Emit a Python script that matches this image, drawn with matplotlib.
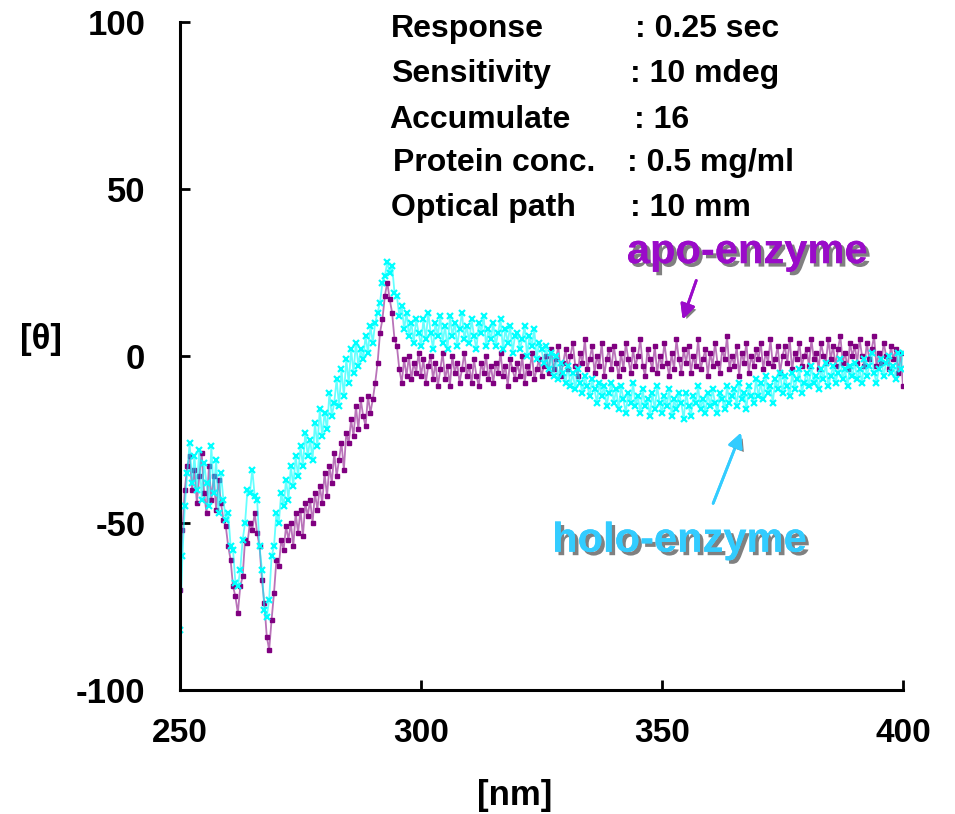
import numpy as np
import matplotlib
matplotlib.use("Agg")
import matplotlib.pyplot as plt
import matplotlib.patheffects as pe
from matplotlib import font_manager

# wavelength grid, 0.5 nm steps
wavelength = np.arange(250, 400.5, 0.5)

# apo-enzyme CD signal (purple)
apo = [
    -70, -52, -40, -33, -30, -40, -34, -44, -36, -29,
    -41, -47, -33, -43, -36, -46, -37, -44, -49, -51,
    -57, -61, -69, -72, -77, -69, -66, -55, -56, -50,
    -52, -47, -53, -57, -67, -74, -84, -88, -79, -71,
    -61, -63, -55, -58, -51, -55, -50, -57, -47, -53,
    -46, -54, -44, -48, -43, -50, -41, -46, -39, -44,
    -35, -42, -33, -38, -29, -36, -31, -26, -34, -23,
    -26, -19, -24, -15, -22, -13, -18, -21, -12, -17,
    -13, -8, -2, 7, 11, 18, 22, 17, 13, 5,
    3, -4, -8, -1, -6, 0, -7, -2, -5, 1,
    -6, -1, -8, -3, 0, -7, -2, -9, -4, 1,
    -7, -3, -9, 0, -5, -2, -8, -4, 1, -6,
    -3, -8, -1, -6, -9, -2, -5, 0, -7, -3,
    -8, -2, -5, 1, -6, -3, -9, -1, -4, -7,
    -2, -6, 0, -8, -3, -5, 1, -7, -4, -1,
    -6, -3, 0, -5, 2, -4, -1, 3, -6, -2,
    2, -4, 0, 4, -3, -6, 1, -2, 5, -4,
    -1, 3, -5, 0, -3, 4, -6, -1, 2, -4,
    3, -2, -6, 1, -4, 4, -1, -5, 2, -3,
    0, 5, -3, -6, 2, -1, -4, 3, -5, 0,
    -3, 4, -2, -6, 1, -4, 5, -1, -5, 2,
    -2, 3, -5, 0, -3, 5, -4, -1, 2, -6,
    1, -3, 4, -2, -5, 2, -1, 6, -4, 0,
    -3, 3, -6, 1, -2, 4, -5, 0, -3, 2,
    -1, 4, -4, 1, -2, 5, -3, -1, 3, -5,
    0, 3, -2, 5, -4, 1, -1, 4, -3, 0,
    2, -3, 5, -1, 1, -4, 4, 0, -2, 5,
    -1, 3, -3, 2, 6, -2, 1, -4, 4, 0,
    3, -2, 5, 0, -3, 4, -1, 2, 6, -3,
    1, -2, 4, 0, -4, 3, -1, 2, -5, 1,
    -9,
]

# holo-enzyme CD signal (cyan)
holo = [
    -82, -60, -45, -35, -26, -38, -30, -40, -28, -43,
    -32, -38, -45, -27, -41, -31, -47, -35, -43, -49,
    -47, -57, -58, -68, -69, -64, -55, -50, -40, -41,
    -34, -42, -43, -57, -64, -76, -78, -73, -60, -57,
    -47, -50, -41, -45, -37, -43, -33, -39, -30, -36,
    -27, -33, -23, -30, -25, -31, -20, -27, -16, -24,
    -17, -22, -11, -18, -14, -7, -15, -4, -12, -1,
    -8, 2, -5, 4, -3, 2, -1, 6, 1, 9,
    4, 10, 13, 16, 22, 24, 28, 25, 27, 19,
    18, 12, 15, 8, 13, 6, 10, 4, 11, 7,
    3, 11, 5, 13, 7, 2, 10, 6, 12, 4,
    9, 2, 12, 6, 10, 3, 8, 13, 5, 9,
    4, 11, 6, 2, 10, 7, 12, 3, 8, 5,
    10, 3, 7, 11, 2, 8, 4, 9, 1, 6,
    7, 2, 5, 9, 0, 6, 3, 8, -1, 4,
    2, -2, 3, -4, 1, -6, 0, -7, -2, -5,
    -8, -3, -9, -5, -10, -4, -8, -11, -6, -9,
    -12, -7, -10, -14, -8, -12, -9, -15, -11, -8,
    -14, -10, -16, -9, -13, -17, -11, -14, -8, -15,
    -12, -17, -10, -15, -13, -18, -11, -16, -9, -14,
    -17, -12, -15, -10, -18, -13, -16, -11, -14, -19,
    -11, -15, -18, -12, -14, -9, -16, -13, -17, -11,
    -15, -10, -14, -17, -11, -13, -16, -9, -14, -12,
    -10, -15, -8, -13, -11, -16, -9, -12, -14, -7,
    -12, -8, -13, -6, -11, -9, -14, -7, -10, -5,
    -11, -6, -9, -12, -5, -10, -7, -4, -11, -8,
    -5, -9, -3, -8, -6, -10, -4, -7, -2, -9,
    -6, -3, -8, -5, -1, -7, -4, -9, -3, -6,
    -2, -7, -4, -8, -1, -6, -3, 1, -5, -8,
    -4, -1, -6, -2, 0, -5, -3, -7, 1, -4,
    1,
]

x_ticks = [250, 300, 350, 400]
y_ticks = [-100, -50, 0, 50, 100]

info_labels = ['Response', 'Sensitivity', 'Accumulate', 'Protein conc.', 'Optical path']
info_values = [': 0.25 sec', ': 10 mdeg', ': 16', ': 0.5 mg/ml', ': 10 mm']

PURPLE = '#800080'
CYAN = '#00FFFF'
APO_TEXT = '#9A0BC9'
HOLO_TEXT = '#33CCFF'

names = {f.name for f in font_manager.fontManager.ttflist}
narrow = 'Liberation Sans Narrow' if 'Liberation Sans Narrow' in names else 'Liberation Sans'
plt.rcParams['font.family'] = ['Liberation Sans', 'DejaVu Sans']
plt.rcParams['font.weight'] = 'bold'
plt.rcParams['axes.unicode_minus'] = False

W, H = 955, 814
fig = plt.figure(figsize=(W / 100, H / 100), dpi=100)
ax = fig.add_axes([180 / W, 124 / H, 723 / W, 668 / H])

ax.plot(wavelength, apo, color=PURPLE, lw=1.3, alpha=0.55)
ax.plot(wavelength, apo, ls='none', marker='s', ms=3, color=PURPLE)
ax.plot(wavelength, holo, color=CYAN, lw=1.3, alpha=0.6)
ax.plot(wavelength, holo, ls='none', marker='x', ms=4.5, mew=1.6, color=CYAN)

ax.set_xlim(250, 400)
ax.set_ylim(-100, 100)
ax.set_xticks(x_ticks)
ax.set_yticks(y_ticks)
for s in ['top', 'right']:
    ax.spines[s].set_visible(False)
for s in ['left', 'bottom']:
    ax.spines[s].set_linewidth(2.2)
ax.tick_params(direction='in', length=7, width=2)
ax.tick_params(axis='y', pad=25, labelsize=25)
ax.tick_params(axis='x', pad=20, labelsize=24)
for lab in ax.get_xticklabels():
    lab.set_fontfamily(narrow)
    lab.set_fontweight('bold')
for lab in ax.get_yticklabels():
    lab.set_fontweight('bold')

fig.text(515 / W, 1 - 795 / H, '[nm]', ha='center', va='center',
         fontsize=25, fontweight='bold', family=narrow)
fig.text(41 / W, 1 - 340 / H, '[θ]', ha='center', va='center',
         fontsize=25, fontweight='bold', family=['Liberation Sans', 'DejaVu Sans'])

# instrument settings block
label_x = [391, 391, 389, 393, 391]
value_x = [635, 630, 634, 627, 630]
baselines = [37, 82, 128, 171, 216]
for lab, val, lx, vx, by in zip(info_labels, info_values, label_x, value_x, baselines):
    fig.text(lx / W, 1 - by / H, lab, ha='left', va='baseline', fontsize=23, fontweight='bold')
    fig.text(vx / W, 1 - by / H, val, ha='left', va='baseline', fontsize=23, fontweight='bold')

shadow = [pe.withSimplePatchShadow(offset=(2.5, -2.5), shadow_rgbFace='#808080', alpha=1), pe.Normal()]
ax.text(342.7, 27.8, 'apo-enzyme', color=APO_TEXT, fontsize=30, fontweight='bold',
        ha='left', va='baseline', path_effects=shadow)
ax.text(327.2, -58.6, 'holo-enzyme', color=HOLO_TEXT, fontsize=30, fontweight='bold',
        ha='left', va='baseline', path_effects=shadow)

arrow_shadow = [pe.withSimplePatchShadow(offset=(2, -2), shadow_rgbFace='#808080', alpha=1), pe.Normal()]
ax.annotate('', xy=(354.1, 10.2), xytext=(357.3, 23.4),
            arrowprops=dict(arrowstyle='-|>', color=APO_TEXT, lw=2, mutation_scale=22,
                            path_effects=arrow_shadow))
ax.annotate('', xy=(366.6, -22.2), xytext=(360.4, -44.9),
            arrowprops=dict(arrowstyle='-|>', color=HOLO_TEXT, lw=2, mutation_scale=22,
                            path_effects=arrow_shadow))

fig.savefig('out.png', dpi=100)
